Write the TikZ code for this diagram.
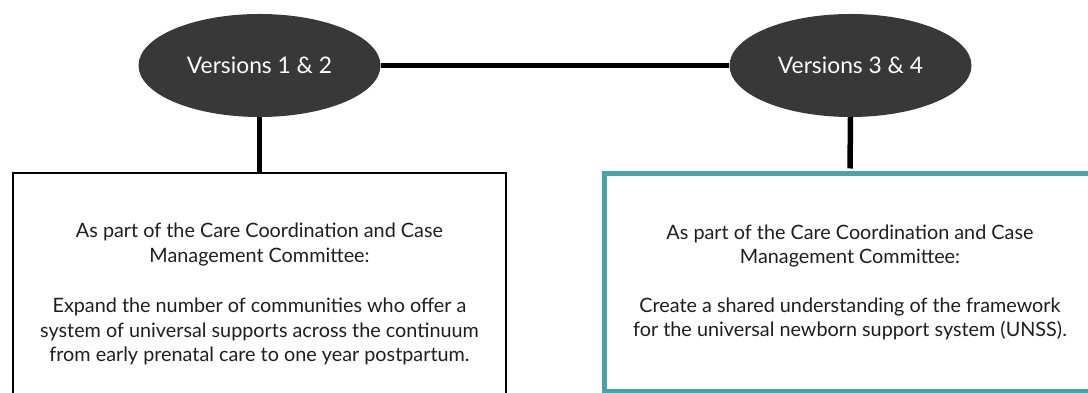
\documentclass[tikz,border=0pt]{standalone}
\usepackage{fontspec}
\setmainfont{Lato}
\usetikzlibrary{shapes.geometric}

\definecolor{ovalgray}{HTML}{383838}
\definecolor{tealline}{HTML}{4AA3AB}
\definecolor{textdark}{HTML}{1E1E1E}

\begin{document}
\begin{tikzpicture}[x=1pt,y=1pt,
  version/.style={ellipse, fill=ovalgray, text=white, minimum width=242pt,
    minimum height=103pt, inner sep=0pt, font=\fontsize{22.8}{26}\selectfont},
  goal/.style={rectangle, align=center, text=textdark, inner sep=0pt,
    font=\fontsize{19.8}{24.5}\selectfont},
  link/.style={line width=5.5pt}]

\useasboundingbox (0,0) rectangle (1088,393);

% Version ovals
\node[version] (v12) at (259.5,327.5) {Versions 1 \& 2};
\node[version] (v34) at (850.5,327.5) {Versions 3 \& 4};

% Goal boxes
\node[goal, draw=black, line width=2pt, minimum width=493pt, minimum height=242pt] (g12) at (259.5,99)
  {As part of the Care Coordination and Case\\ Management Committee:\\[26pt]
   Expand the number of communities who offer a\\ system of universal supports across the continuum\\
   from early prenatal care to one year postpartum.};
\node[goal, draw=tealline, line width=5pt, minimum width=491pt, minimum height=218pt] (g34) at (850,110.5)
  {As part of the Care Coordination and Case\\ Management Committee:\\[24pt]
   Create a shared understanding of the framework\\ for the universal newborn support system (UNSS).};

% Connectors
\draw[link] (v12.east) -- (v34.west);
\draw[link] (v12.south) -- (g12.north);
\draw[link, shorten >=2.5pt] (v34.south) -- (g34.north);

\end{tikzpicture}
\end{document}
